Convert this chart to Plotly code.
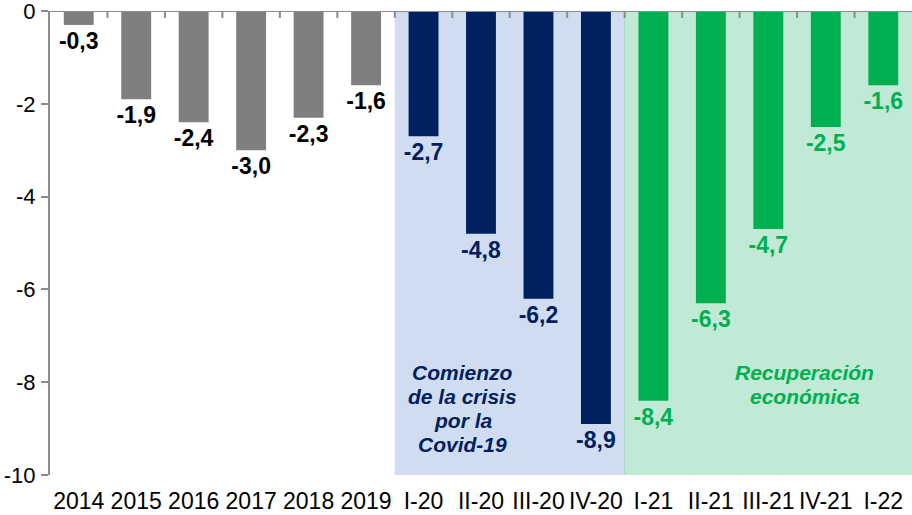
import plotly.graph_objects as go

categories = ["2014", "2015", "2016", "2017", "2018", "2019",
              "I-20", "II-20", "III-20", "IV-20",
              "I-21", "II-21", "III-21", "IV-21", "I-22"]
values = [-0.3, -1.9, -2.4, -3.0, -2.3, -1.6,
          -2.7, -4.8, -6.2, -8.9,
          -8.4, -6.3, -4.7, -2.5, -1.6]
groups = ["year"] * 6 + ["crisis"] * 4 + ["recovery"] * 5
y_ticks = [0, -2, -4, -6, -8, -10]
y_tick_labels = ["0", "-2", "-4", "-6", "-8", "-10"]

bar_colors = {"year": "#7F7F7F", "crisis": "#002060", "recovery": "#00B050"}
label_colors = {"year": "#000000", "crisis": "#002060", "recovery": "#00B050"}

FONT = "Liberation Sans, Arial"
AXIS_GREY = "#8C8C8C"

fig = go.Figure()

fig.add_trace(go.Bar(
    x=categories, y=values,
    marker=dict(color=[bar_colors[g] for g in groups], line=dict(width=0)),
    width=0.52,
    text=[f"{v:.1f}".replace(".", ",") for v in values],
    texttemplate="%{text}",
    textposition="outside",
    constraintext="none",
    cliponaxis=False,
    textfont=dict(family=FONT, size=23,
                  color=[label_colors[g] for g in groups], weight="bold"),
    hoverinfo="skip",
))

# background shading of the periods
fig.add_shape(type="rect", xref="x", yref="y", x0=5.5, x1=9.5, y0=-10, y1=0,
              fillcolor="#D0DCEF", line=dict(width=0), layer="below")
fig.add_shape(type="rect", xref="x", yref="y", x0=9.5, x1=14.5, y0=-10, y1=0,
              fillcolor="#C0EAD5", line=dict(width=0), layer="below")
fig.add_shape(type="line", xref="x", yref="y", x0=9.5, x1=9.5, y0=-10, y1=0,
              line=dict(color="#A8D8C0", width=1), layer="below")

# category axis line at y = 0 with tick marks between categories
fig.add_shape(type="line", xref="x", yref="y", x0=-0.5, x1=14.5, y0=0, y1=0,
              line=dict(color=AXIS_GREY, width=2), layer="above")
for i in range(14):
    fig.add_shape(type="line", xref="x", yref="y", x0=i + 0.5, x1=i + 0.5,
                  ysizemode="pixel", yanchor=0, y0=0, y1=-7,
                  line=dict(color=AXIS_GREY, width=2), layer="above")

crisis_lines = ["Comienzo", "de la crisis", "por la", "Covid-19"]
recovery_lines = ["Recuperación", "económica"]
for i, t in enumerate(crisis_lines):
    fig.add_annotation(x=6.68, y=-7.5 - 0.52 * i, xref="x", yref="y",
                       text=t, showarrow=False, yanchor="top",
                       font=dict(family=FONT, size=21, color="#002060",
                                 style="italic", weight="bold"))
for i, t in enumerate(recovery_lines):
    fig.add_annotation(x=12.63, y=-7.5 - 0.52 * i, xref="x", yref="y",
                       text=t, showarrow=False, yanchor="top",
                       font=dict(family=FONT, size=21, color="#00B050",
                                 style="italic", weight="bold"))

fig.update_layout(
    width=912, height=515,
    margin=dict(l=50, r=0, t=11, b=40, autoexpand=False),
    plot_bgcolor="white", paper_bgcolor="white",
    showlegend=False,
    font=dict(family=FONT, size=23, color="#000000"),
    xaxis=dict(type="category", range=[-0.5, 14.5], showline=False,
               ticks="", showgrid=False, zeroline=False, automargin=False,
               tickfont=dict(size=23), ticklabelstandoff=10,
               ticklabeloverflow="allow"),
    yaxis=dict(range=[-10, 0], tickvals=y_ticks, ticktext=y_tick_labels,
               showline=True, linecolor=AXIS_GREY,
               linewidth=2, ticks="outside", ticklen=7, tickcolor=AXIS_GREY,
               tickwidth=2, showgrid=False, zeroline=False, automargin=False,
               tickfont=dict(size=22), ticklabeloverflow="allow",
               ticklabelstandoff=1),
)

fig.write_html("out.html",
               config={"displayModeBar": False, "staticPlot": True},
               post_script="document.body.style.margin='0';"
                           "document.body.style.overflow='hidden';")
